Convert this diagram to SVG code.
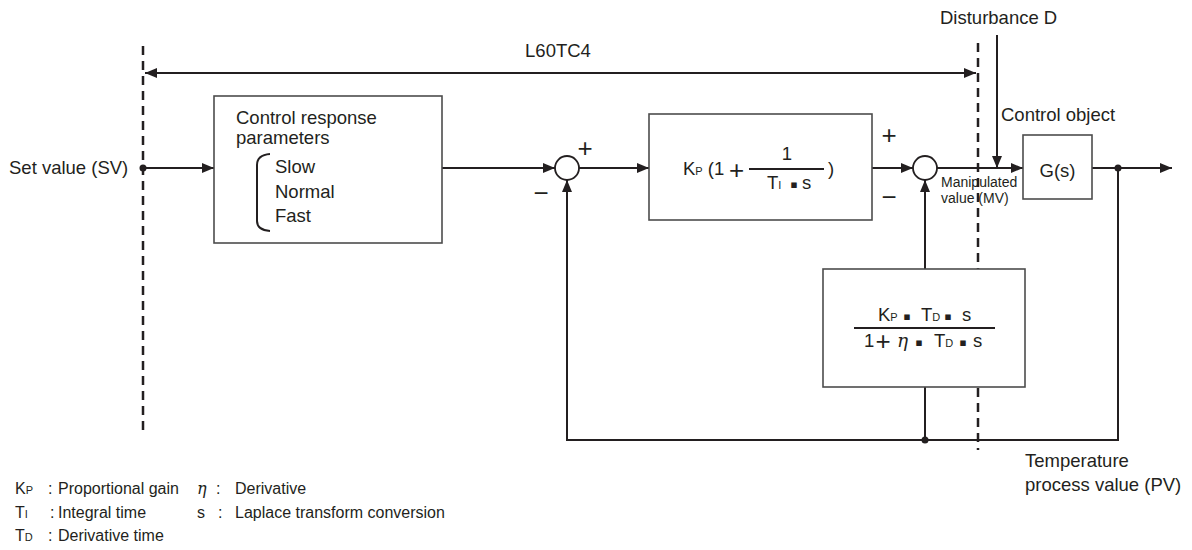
<svg xmlns="http://www.w3.org/2000/svg" width="1192" height="550" viewBox="0 0 1192 550">
<defs>
<marker id="ah" viewBox="0 0 12 10" refX="12" refY="5" markerWidth="12" markerHeight="10" markerUnits="userSpaceOnUse" orient="auto-start-reverse">
<path d="M0,0 L12,5 L0,10 z" fill="#231f20"/>
</marker>
<style>
text{font-family:"Liberation Sans",Arial,sans-serif;font-size:18.5px;fill:#231f20}
.sm{font-size:14px}
.lg{font-size:16px}
.sub{font-size:11px}
.lsub{font-size:11px}
.pm{font-size:26px}
.dot{font-family:"DejaVu Sans",sans-serif;font-size:11px}
.eta{font-family:"DejaVu Serif",serif;font-style:italic}
.box{fill:#fff;stroke:#4d4d4d;stroke-width:1.6}
.ln{fill:none;stroke:#231f20;stroke-width:2}
.dash{fill:none;stroke:#231f20;stroke-width:2.5;stroke-dasharray:9 6}
.sum{fill:#fff;stroke:#231f20;stroke-width:1.8}
</style>
</defs>
<rect width="1192" height="550" fill="#fff"/>

<g id="boundary">
<line class="dash" x1="143" y1="46" x2="143" y2="433"/>
<line class="dash" x1="978" y1="43" x2="978" y2="450"/>
<text x="558" y="57" text-anchor="middle">L60TC4</text>
</g>

<g id="connectors">
<line class="ln" x1="145" y1="73" x2="976" y2="73" marker-start="url(#ah)" marker-end="url(#ah)"/>
<line class="ln" x1="143" y1="168" x2="214" y2="168" marker-end="url(#ah)"/>
<line class="ln" x1="442" y1="168" x2="555" y2="168" marker-end="url(#ah)"/>
<line class="ln" x1="579" y1="168" x2="649" y2="168" marker-end="url(#ah)"/>
<line class="ln" x1="872" y1="168" x2="913" y2="168" marker-end="url(#ah)"/>
<line class="ln" x1="937" y1="168" x2="1023" y2="168" marker-end="url(#ah)"/>
<line class="ln" x1="997" y1="35" x2="997" y2="168" marker-end="url(#ah)"/>
<line class="ln" x1="1092" y1="168" x2="1172" y2="168" marker-end="url(#ah)"/>
<polyline class="ln" points="1118,168 1118,440 567,440 567,180" marker-end="url(#ah)"/>
<line class="ln" x1="925" y1="440" x2="925" y2="387"/>
<line class="ln" x1="925" y1="269" x2="925" y2="180" marker-end="url(#ah)"/>
<circle cx="143" cy="168" r="3.5" fill="#231f20"/>
<circle cx="1118" cy="168" r="3.5" fill="#231f20"/>
<circle cx="925" cy="440" r="3.5" fill="#231f20"/>
</g>

<g id="sv">
<text x="9" y="174">Set value (SV)</text>
</g>

<g id="response">
<rect class="box" x="214" y="96" width="228" height="147"/>
<text x="236" y="124">Control response</text>
<text x="236" y="144">parameters</text>
<path class="ln" d="M270,154 Q257,155 257,165 L257,221 Q257,230 270,231" stroke-width="1.6"/>
<text x="275" y="173">Slow</text>
<text x="275" y="198">Normal</text>
<text x="275" y="222">Fast</text>
</g>

<g id="sum1">
<circle class="sum" cx="567" cy="168" r="12"/>
<text class="pm" x="585" y="157" text-anchor="middle">+</text>
<text class="pm" x="541" y="202" text-anchor="middle">−</text>
</g>

<g id="pi">
<rect class="box" x="649" y="114" width="223" height="106"/>
<text x="683" y="175">K<tspan class="sub">P</tspan> (1</text>
<text class="pm" x="736.5" y="179" text-anchor="middle">+</text>
<line class="ln" x1="749" y1="169" x2="824" y2="169"/>
<text x="787" y="160" text-anchor="middle">1</text>
<text x="767" y="189">T<tspan class="sub">I</tspan></text>
<text x="794" y="188" class="dot" text-anchor="middle">▪</text>
<text x="802" y="189">s</text>
<text x="828" y="175">)</text>
</g>

<g id="sum2">
<circle class="sum" cx="925" cy="168" r="12"/>
<text class="pm" x="889" y="144" text-anchor="middle">+</text>
<text class="pm" x="889" y="206" text-anchor="middle">−</text>
<text class="sm" x="941" y="187">Manipulated</text>
<text class="sm" x="941" y="203">value (MV)</text>
</g>

<g id="disturbance">
<text x="940" y="24">Disturbance D</text>
</g>

<g id="plant">
<text x="1001" y="121">Control object</text>
<rect class="box" x="1023" y="135" width="69" height="64"/>
<text x="1057.5" y="177" text-anchor="middle">G(s)</text>
</g>

<g id="derivative">
<rect class="box" x="823" y="269" width="202" height="118"/>
<text x="878" y="321">K<tspan class="sub">P</tspan></text>
<text x="907" y="320" class="dot" text-anchor="middle">▪</text>
<text x="921" y="321">T<tspan class="sub">D</tspan></text>
<text x="948" y="320" class="dot" text-anchor="middle">▪</text>
<text x="962" y="321">s</text>
<line class="ln" x1="854" y1="328" x2="995" y2="328"/>
<text x="864" y="347">1</text>
<text class="pm" x="883" y="350" text-anchor="middle">+</text>
<text x="897" y="347" class="eta">η</text>
<text x="919" y="346" class="dot" text-anchor="middle">▪</text>
<text x="934" y="347">T<tspan class="sub">D</tspan></text>
<text x="963" y="346" class="dot" text-anchor="middle">▪</text>
<text x="973" y="347">s</text>
</g>

<g id="pv">
<text x="1025" y="467">Temperature</text>
<text x="1025" y="491">process value (PV)</text>
</g>

<g id="legend">
<text class="lg" x="15" y="494">K<tspan class="lsub">P</tspan></text>
<text class="lg" x="48" y="494">:</text>
<text class="lg" x="58" y="494">Proportional gain</text>
<text class="lg" x="15" y="518">T<tspan class="lsub">I</tspan></text>
<text class="lg" x="50" y="518">:</text>
<text class="lg" x="58" y="518">Integral time</text>
<text class="lg" x="15" y="541">T<tspan class="lsub">D</tspan></text>
<text class="lg" x="48" y="541">:</text>
<text class="lg" x="58" y="541">Derivative time</text>
<text class="lg eta" x="197" y="494">η</text>
<text class="lg" x="216" y="494">:</text>
<text class="lg" x="235" y="494">Derivative</text>
<text class="lg" x="197" y="518">s</text>
<text class="lg" x="218" y="518">:</text>
<text class="lg" x="235" y="518">Laplace transform conversion</text>
</g>
</svg>
